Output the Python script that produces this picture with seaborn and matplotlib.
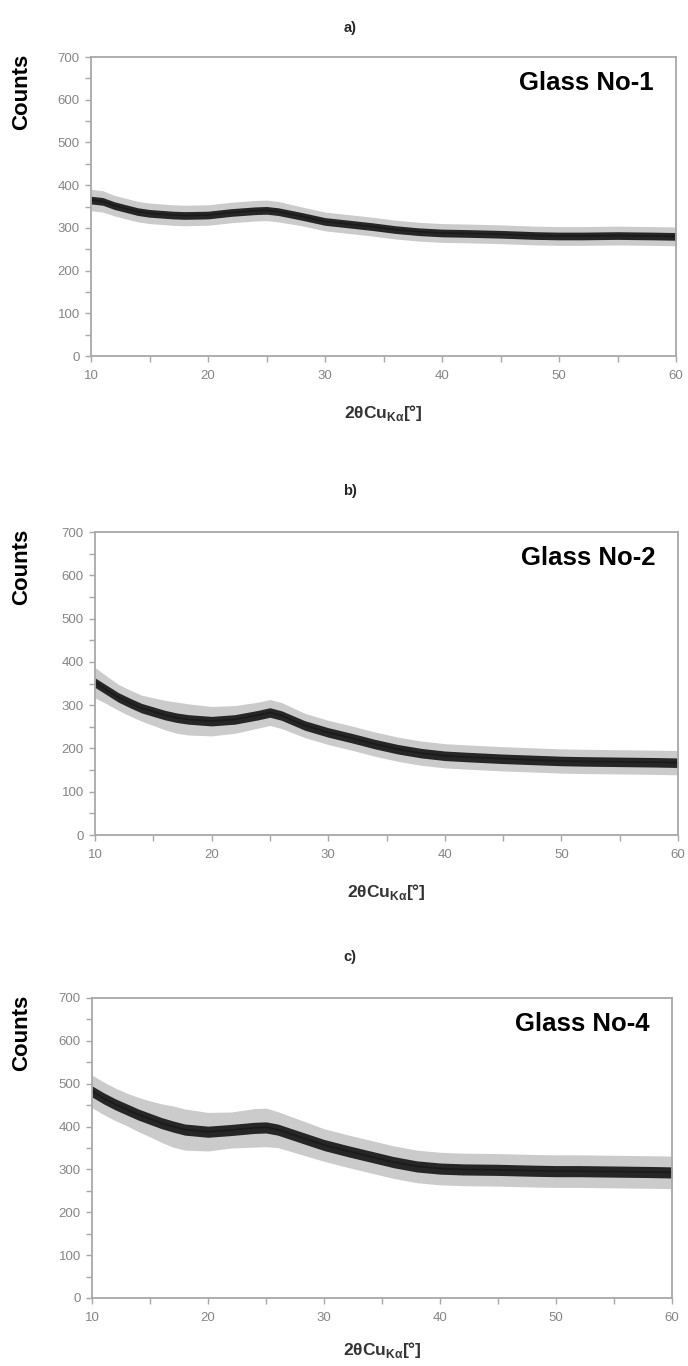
import numpy as np
import pandas as pd
import matplotlib
matplotlib.use("Agg")
import matplotlib.pyplot as plt
import seaborn as sns
from matplotlib.ticker import MultipleLocator

# =========================
# DATA
# =========================
two_theta = [10, 11, 12, 13, 14, 15, 16, 17, 18, 20, 22, 24, 25, 26, 28, 30,
             32, 34, 36, 38, 40, 42, 45, 48, 50, 52, 55, 58, 60]

counts_no1 = [365, 362, 352, 345, 338, 334, 332, 330, 329, 330, 336, 340, 341,
              338, 327, 315, 309, 303, 296, 291, 288, 287, 285, 282, 281, 281,
              282, 281, 280]
spread_no1 = [25, 25, 24, 24, 24, 24, 24, 24, 24, 24, 24, 24, 24, 24, 22, 22,
              22, 22, 22, 22, 22, 22, 22, 22, 22, 22, 22, 22, 22]

counts_no2 = [352, 335, 318, 305, 293, 285, 277, 271, 267, 263, 267, 277, 283,
              276, 253, 237, 224, 210, 198, 189, 183, 180, 176, 173, 171, 170,
              169, 168, 167]
spread_no2 = [35, 32, 30, 30, 30, 32, 34, 36, 36, 34, 32, 30, 30, 30, 28, 28,
              28, 28, 28, 28, 28, 28, 28, 28, 28, 28, 28, 28, 28]

counts_no4 = [482, 466, 452, 440, 428, 418, 408, 400, 393, 388, 392, 397, 398,
              393, 375, 357, 343, 330, 317, 307, 302, 300, 299, 297, 296, 296,
              295, 294, 293]
spread_no4 = [38, 38, 38, 38, 40, 42, 45, 48, 48, 45, 42, 45, 45, 42, 40, 38,
              38, 38, 38, 38, 38, 38, 38, 38, 38, 38, 38, 38, 38]

panel_tags = ["a)", "b)", "c)"]
glass_names = ["Glass No-1", "Glass No-2", "Glass No-4"]
y_ticks = [0, 100, 200, 300, 400, 500, 600, 700]
x_ticks = [10, 20, 30, 40, 50, 60]

# =========================
# STYLE
# =========================
sns.set_style("white")
plt.rcParams["font.family"] = ["Liberation Sans", "DejaVu Sans"]

W, H = 688, 1366
fig = plt.figure(figsize=(W / 100, H / 100), dpi=100)

# (left, right, top, bottom) in pixels, tag y, xlabel y
boxes = [
    (91, 676, 57, 356, 28, 413),
    (95, 678, 532, 835, 491, 892),
    (92, 672, 998, 1298, 957, 1350),
]
core_w = [9, 11, 13]

series = [
    (counts_no1, spread_no1),
    (counts_no2, spread_no2),
    (counts_no4, spread_no4),
]

spine_col = "#a8a8a8"
tick_col = "#858585"

for i, (vals, spread) in enumerate(series):
    l, r, t, b, tag_y, xl_y = boxes[i]
    ax = fig.add_axes([l / W, 1 - b / H, (r - l) / W, (b - t) / H])

    df = pd.DataFrame({"two_theta": two_theta, "counts": vals, "spread": spread})

    # light spikes
    ax.fill_between(df["two_theta"], df["counts"] - df["spread"],
                    df["counts"] + df["spread"], color="#8c8c8c", alpha=0.45,
                    linewidth=0)
    # dark core
    ax.fill_between(df["two_theta"], df["counts"] - core_w[i],
                    df["counts"] + core_w[i], color="#262626", linewidth=0)
    sns.lineplot(data=df, x="two_theta", y="counts", ax=ax, color="#1a1a1a",
                 linewidth=1.2)

    ax.set_xlim(10, 60)
    ax.set_ylim(0, 700)
    ax.set_xticks(x_ticks)
    ax.set_yticks(y_ticks)
    ax.xaxis.set_minor_locator(MultipleLocator(5))
    ax.yaxis.set_minor_locator(MultipleLocator(50))
    ax.tick_params(axis="both", which="both", direction="out", length=4,
                   width=1, color=spine_col, labelcolor=tick_col, labelsize=9.5,
                   bottom=True, left=True)
    ax.tick_params(axis="x", pad=6)
    ax.tick_params(axis="y", pad=4)
    for sp in ax.spines.values():
        sp.set_color(spine_col)
        sp.set_linewidth(1.3)

    ax.set_xlabel("")
    ax.set_ylabel("")

    ax.text(0.961, 0.913, glass_names[i], transform=ax.transAxes, ha="right",
            va="center", fontsize=18.5, fontweight="bold", color="black")

    fig.text(350 / W, 1 - tag_y / H, panel_tags[i], ha="center", va="center",
             fontsize=10.5, fontweight="bold")
    fig.text((l + r) / 2 / W, 1 - xl_y / H, r"2θCu$_{\mathregular{Kα}}$[°]",
             ha="center", va="center", fontsize=12.5, fontweight="bold",
             color="#333333")
    fig.text(22 / W, 1 - (t + 35) / H, "Counts", rotation=90, ha="center",
             va="center", fontsize=16, fontweight="bold", color="black")

fig.savefig("out.png", dpi=100)
